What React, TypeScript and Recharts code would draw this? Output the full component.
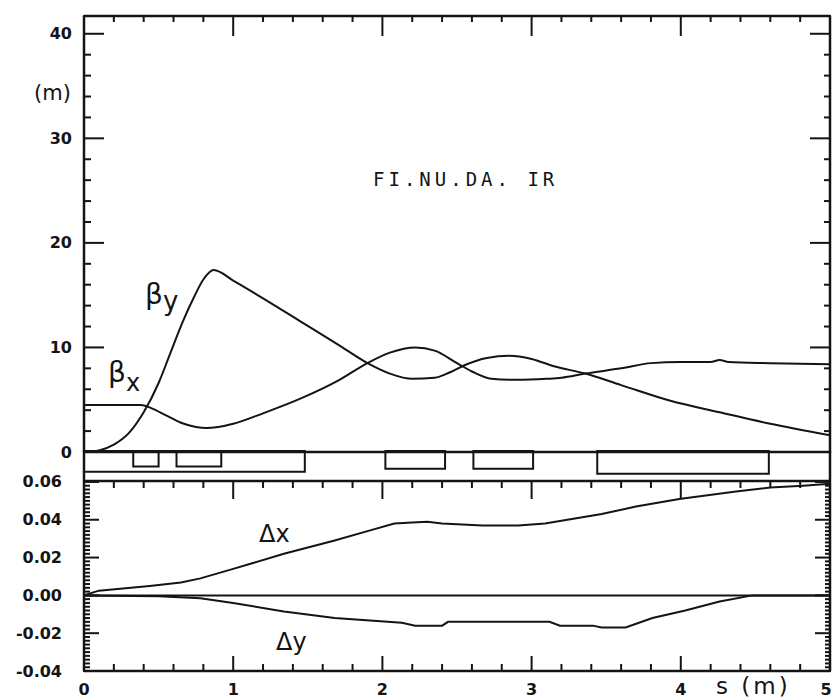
import React from 'react';
import { LineChart, Line, XAxis, YAxis, ReferenceLine, ReferenceArea } from 'recharts';

const W = 834;
const H = 700;
const INK = '#141414';

// ---- axis ticks ----
const sTicks = [0, 0.2, 0.4, 0.6, 0.8, 1, 1.2, 1.4, 1.6, 1.8, 2, 2.2, 2.4, 2.6, 2.8, 3, 3.2, 3.4, 3.6, 3.8, 4, 4.2, 4.4, 4.6, 4.8, 5];
const sMajorTicks = [0, 1, 2, 3, 4, 5];
const sLabels = ['0', '1', '2', '3', '4', '5'];
const betaTicks = [0, 2, 4, 6, 8, 10, 12, 14, 16, 18, 20, 22, 24, 26, 28, 30, 32, 34, 36, 38, 40];
const betaMajorTicks = [0, 10, 20, 30, 40];
const betaLabels = ['0', '10', '20', '30', '40'];
const deltaMajorTicks = [-0.04, -0.02, 0, 0.02, 0.04, 0.06];
const deltaLabels = ['-0.04', '-0.02', '0.00', '0.02', '0.04', '0.06'];
const deltaStep = 0.002;
const deltaTicks = Array.from({ length: 51 }, (_, i) => Math.round((-0.04 + i * deltaStep) * 1000) / 1000);

// ---- series (s in m) ----
const betaX: [number, number][] = [
  [0, 4.5], [0.2, 4.5], [0.38, 4.5], [0.45, 4.2], [0.55, 3.5], [0.65, 2.8], [0.75, 2.4], [0.82, 2.3],
  [0.9, 2.4], [1.0, 2.7], [1.2, 3.7], [1.45, 5.1], [1.7, 6.8], [1.9, 8.5], [2.05, 9.5], [2.22, 10.0],
  [2.35, 9.7], [2.5, 8.5], [2.6, 7.7], [2.73, 7.0], [2.9, 6.9], [3.1, 7.0], [3.2, 7.1], [3.36, 7.5],
  [3.6, 8.0], [3.8, 8.5], [4.0, 8.6], [4.2, 8.6], [4.26, 8.8], [4.32, 8.6], [4.6, 8.5], [5.0, 8.4],
];
const betaY: [number, number][] = [
  [0, 0], [0.1, 0.15], [0.2, 0.7], [0.3, 1.8], [0.4, 3.8], [0.5, 6.6], [0.58, 9.5], [0.66, 12.4],
  [0.74, 14.9], [0.8, 16.5], [0.87, 17.4], [1.0, 16.4], [1.2, 14.7], [1.45, 12.5],
  [1.7, 10.3], [1.9, 8.5], [2.05, 7.5], [2.2, 7.0], [2.35, 7.1], [2.45, 7.6], [2.55, 8.3], [2.7, 9.0],
  [2.85, 9.2], [3.0, 8.9], [3.15, 8.2], [3.36, 7.5], [3.6, 6.4], [3.93, 4.9], [4.26, 3.8], [4.6, 2.7], [5.0, 1.6],
];
const deltaX: [number, number][] = [
  [0, 0], [0.1, 0.0025], [0.44, 0.005], [0.65, 0.0068], [0.78, 0.009], [1.0, 0.014], [1.34, 0.022],
  [1.68, 0.029], [1.9, 0.034], [2.08, 0.038], [2.2, 0.0385], [2.3, 0.039], [2.4, 0.038], [2.67, 0.037],
  [2.91, 0.037], [3.09, 0.038], [3.47, 0.043], [3.7, 0.047], [3.99, 0.051], [4.37, 0.055], [4.6, 0.057],
  [4.82, 0.058], [5.0, 0.059],
];
const deltaY: [number, number][] = [
  [0, 0], [0.5, -0.0005], [0.78, -0.0015], [1.0, -0.004], [1.34, -0.0085], [1.68, -0.012], [2.13, -0.0145],
  [2.22, -0.016], [2.4, -0.016], [2.44, -0.014], [3.12, -0.014], [3.19, -0.016], [3.41, -0.016],
  [3.47, -0.017], [3.63, -0.017], [3.81, -0.012], [4.03, -0.008], [4.26, -0.0032], [4.48, 0], [5.0, 0],
];

// ---- magnet layout (start s, end s, depth as fraction of the strip) ----
const magnetStart = [0, 0.33, 0.62, 2.02, 2.61, 3.44];
const magnetEnd = [1.48, 0.5, 0.92, 2.42, 3.01, 4.59];
const magnetDepth = [0.69, 0.52, 0.52, 0.59, 0.59, 0.76];

const toRows = (pts: [number, number][]) => pts.map(([s, v]) => ({ s, v }));

const near = (a: number, b: number) => Math.abs(a - b) < 1e-6;
const notIn = (all: number[], majors: number[]) => all.filter((v) => !majors.some((m) => near(m, v)));
const sMinorTicks = notIn(sTicks, sMajorTicks);
const betaMinorTicks = notIn(betaTicks, betaMajorTicks);
const deltaMinorTicks = notIn(deltaTicks, deltaMajorTicks);

const labelOf = (majors: number[], labels: string[]) => (v: number) => {
  const i = majors.findIndex((m) => near(m, v));
  return i >= 0 ? labels[i] : '';
};

// ---- layout ----
const PLOT_L = 84;
const PLOT_R = 830;
const TOP_Y0 = 16;
const TOP_Y1 = 452;
const BOT_Y0 = 481;
const BOT_Y1 = 671;
const S_DOMAIN: [number, number] = [0, 5];
const BETA_DOMAIN: [number, number] = [0, 41.7];
const DELTA_DOMAIN: [number, number] = [-0.04, 0.0605];

// label renderer for axes whose tick lines point inward (negative tickSize)
function labelTick(side: 'left' | 'bottom', fmt: (v: number) => string, back: number) {
  return (props: any) => {
    const x = Number(props.x);
    const y = Number(props.y);
    const txt = fmt(Number(props.payload?.value));
    if (!txt) return <g />;
    return side === 'left' ? (
      <text x={x - back} y={y} textAnchor="end" dominantBaseline="central" fill={INK}
        fontFamily="DejaVu Sans" fontWeight="bold" fontSize={16}>{txt}</text>
    ) : (
      <text x={Math.min(x, W - 8)} y={y + back} textAnchor="middle" dominantBaseline="central" fill={INK}
        fontFamily="DejaVu Sans" fontWeight="bold" fontSize={16}>{txt}</text>
    );
  };
}
const noLabel = () => <g />;

const axisLine = { stroke: INK, strokeWidth: 2.5 };
const tickLine = { stroke: INK, strokeWidth: 2 };

// two 1px axes per side (minor + major tick marks); margins compensate
const marginFor = (y0: number, y1: number, nTop: number, nBottom: number) => ({
  top: y0 - nTop,
  bottom: H - y1 - nBottom,
  left: PLOT_L - 2,
  right: W - PLOT_R - 2,
});

const abs: React.CSSProperties = { position: 'absolute', left: 0, top: 0 };

export default function App() {
  const bx = toRows(betaX);
  const by = toRows(betaY);
  const dx = toRows(deltaX);
  const dy = toRows(deltaY);
  const common = { type: 'number' as const, allowDataOverflow: true, tickMargin: 0, interval: 0 as const, stroke: INK };
  return (
    <div style={{ position: 'absolute', left: 0, top: 0, width: W, height: H, background: '#fff', overflow: 'hidden' }}>
      {/* top panel: beta functions */}
      <div style={abs}>
        <LineChart width={W} height={H} margin={marginFor(TOP_Y0, TOP_Y1, 2, 1)}>
          <XAxis xAxisId="b" {...common} dataKey="s" domain={S_DOMAIN} orientation="bottom" height={1}
            axisLine={axisLine} tickLine={false} tick={false} />
          <XAxis xAxisId="t" {...common} dataKey="s" domain={S_DOMAIN} orientation="top" height={1}
            axisLine={axisLine} ticks={sMinorTicks} tickSize={-6} tickLine={tickLine} tick={noLabel} />
          <XAxis xAxisId="t2" {...common} dataKey="s" domain={S_DOMAIN} orientation="top" height={1}
            axisLine={false} ticks={sMajorTicks} tickSize={-21} tickLine={tickLine} tick={noLabel} />
          <YAxis yAxisId="l" {...common} domain={BETA_DOMAIN} width={1} axisLine={axisLine}
            ticks={betaMinorTicks} tickSize={-7} tickLine={tickLine} tick={noLabel} />
          <YAxis yAxisId="l2" {...common} domain={BETA_DOMAIN} width={1} axisLine={false}
            ticks={betaMajorTicks} tickSize={-21} tickLine={tickLine}
            tick={labelTick('left', labelOf(betaMajorTicks, betaLabels), 21 + 11)} />
          <YAxis yAxisId="r" {...common} orientation="right" domain={BETA_DOMAIN} width={1} axisLine={axisLine}
            ticks={betaMinorTicks} tickSize={-6} tickLine={tickLine} tick={noLabel} />
          <YAxis yAxisId="r2" {...common} orientation="right" domain={BETA_DOMAIN} width={1} axisLine={false}
            ticks={betaMajorTicks} tickSize={-21} tickLine={tickLine} tick={noLabel} />
          <Line xAxisId="b" yAxisId="l" data={bx} dataKey="v" type="monotone" stroke={INK} strokeWidth={2}
            dot={false} isAnimationActive={false} />
          <Line xAxisId="b" yAxisId="l" data={by} dataKey="v" type="monotone" stroke={INK} strokeWidth={2}
            dot={false} isAnimationActive={false} />
        </LineChart>
      </div>

      {/* magnet layout strip */}
      <div style={abs}>
        <LineChart width={W} height={H} margin={{ top: TOP_Y1 - 1, bottom: H - BOT_Y0 - 1, left: PLOT_L - 1, right: W - PLOT_R - 1 }}>
          <XAxis xAxisId="b" type="number" dataKey="s" domain={S_DOMAIN} allowDataOverflow height={1}
            axisLine={false} tickLine={false} tick={false} />
          <YAxis yAxisId="l" type="number" domain={[0, 1]} reversed allowDataOverflow width={1} axisLine={axisLine}
            tickLine={false} tick={false} />
          <YAxis yAxisId="r" orientation="right" type="number" domain={[0, 1]} reversed allowDataOverflow width={1}
            axisLine={axisLine} tickLine={false} tick={false} />
          {magnetStart.map((s0, i) => (
            <ReferenceArea key={i} xAxisId="b" yAxisId="l" x1={s0} x2={magnetEnd[i]} y1={0} y2={magnetDepth[i]}
              fill="none" fillOpacity={0} stroke={INK} strokeWidth={2} ifOverflow="visible" />
          ))}
        </LineChart>
      </div>

      {/* bottom panel: displacements */}
      <div style={abs}>
        <LineChart width={W} height={H} margin={marginFor(BOT_Y0, BOT_Y1, 2, 2)}>
          <XAxis xAxisId="b" {...common} dataKey="s" domain={S_DOMAIN} orientation="bottom" height={1}
            axisLine={axisLine} ticks={sMinorTicks} tickSize={-7} tickLine={tickLine} tick={noLabel} />
          <XAxis xAxisId="b2" {...common} dataKey="s" domain={S_DOMAIN} orientation="bottom" height={1}
            axisLine={false} ticks={sMajorTicks} tickSize={-16} tickLine={tickLine}
            tick={labelTick('bottom', labelOf(sMajorTicks, sLabels), 16 + 17)} />
          <XAxis xAxisId="t" {...common} dataKey="s" domain={S_DOMAIN} orientation="top" height={1}
            axisLine={axisLine} ticks={sMinorTicks} tickSize={-7} tickLine={tickLine} tick={noLabel} />
          <XAxis xAxisId="t2" {...common} dataKey="s" domain={S_DOMAIN} orientation="top" height={1}
            axisLine={false} ticks={sMajorTicks} tickSize={-19} tickLine={tickLine} tick={noLabel} />
          <YAxis yAxisId="l" {...common} domain={DELTA_DOMAIN} width={1} axisLine={axisLine}
            ticks={deltaMinorTicks} tickSize={-6} tickLine={tickLine} tick={noLabel} />
          <YAxis yAxisId="l2" {...common} domain={DELTA_DOMAIN} width={1} axisLine={false}
            ticks={deltaMajorTicks} tickSize={-16} tickLine={tickLine}
            tick={labelTick('left', labelOf(deltaMajorTicks, deltaLabels), 16 + 21)} />
          <YAxis yAxisId="r" {...common} orientation="right" domain={DELTA_DOMAIN} width={1} axisLine={axisLine}
            ticks={deltaMinorTicks} tickSize={-5} tickLine={tickLine} tick={noLabel} />
          <YAxis yAxisId="r2" {...common} orientation="right" domain={DELTA_DOMAIN} width={1} axisLine={false}
            ticks={deltaMajorTicks} tickSize={-16} tickLine={tickLine} tick={noLabel} />
          <ReferenceLine xAxisId="b" yAxisId="l" y={0} stroke={INK} strokeWidth={2} />
          <Line xAxisId="b" yAxisId="l" data={dx} dataKey="v" type="linear" stroke={INK} strokeWidth={2}
            dot={false} isAnimationActive={false} />
          <Line xAxisId="b" yAxisId="l" data={dy} dataKey="v" type="linear" stroke={INK} strokeWidth={2}
            dot={false} isAnimationActive={false} />
        </LineChart>
      </div>

      {/* annotations */}
      <svg width={W} height={H} style={{ ...abs, pointerEvents: 'none' }}>
        <g fill={INK} fontFamily="DejaVu Sans">
          <text x={34} y={100} fontSize={21}>(m)</text>
          <text x={373} y={186} fontSize={19} fontFamily="DejaVu Sans Mono" letterSpacing={4}>FI.NU.DA. IR</text>
          <text x={145} y={304} fontSize={28}>β<tspan fontSize={26} dy={6}>y</tspan></text>
          <text x={108} y={382} fontSize={28}>β<tspan fontSize={24} dy={9}>x</tspan></text>
          <text x={259} y={542} fontSize={24}>Δx</text>
          <text x={276} y={650} fontSize={24}>Δy</text>
          <text x={716} y={694} fontSize={23} letterSpacing={3}>s (m)</text>
        </g>
      </svg>
    </div>
  );
}
